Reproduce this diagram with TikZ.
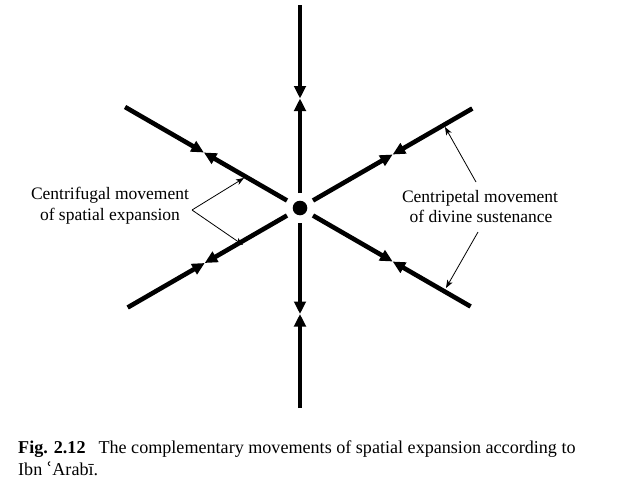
\documentclass[tikz,border=0pt]{standalone}
\usepackage{fontspec}
\setmainfont{Liberation Serif}
\newfontfamily\dvserif{DejaVu Serif}
\usetikzlibrary{arrows.meta}
\begin{document}
\begin{tikzpicture}[x=1pt,y=-1pt,
  ray/.style={line width=4.6pt, -{Triangle[length=12.5pt,width=11.5pt]}},
  pointer/.style={line width=0.8pt, -{Stealth[length=8pt,width=6pt,inset=2pt]}},
  lbl/.style={font=\fontsize{17.5}{21}\selectfont, anchor=base, inner sep=0pt},
  captext/.style={font=\fontsize{18.1}{22}\selectfont, anchor=base west, inner sep=0pt}]
\useasboundingbox (0,0) rectangle (635,498);
\node[circle, fill, minimum size=14.6pt, inner sep=0pt] (c) at (300,208) {};
\foreach \n/\a/\m/\o in {t/270/109.5/203, ul/210/111/202, ur/330/107/199, ll/150/110/199, lr/30/107/197, b/90/106/200} {
  \coordinate (\n-in) at ([shift={(\a:15)}]c.center);
  \coordinate (\n-mid) at ([shift={(\a:\m)}]c.center);
  \coordinate (\n-out) at ([shift={(\a:\o)}]c.center);
  \draw[ray] (\n-in) -- (\n-mid);
  \draw[ray] (\n-out) -- (\n-mid);
}
% left label
\node[lbl] (lf1) at (110,199) {Centrifugal movement};
\node[lbl] (lf2) at (110,220.5) {of spatial expansion};
\coordinate (lfp) at (192,210);
\coordinate (lfu) at (244,178);
\coordinate (lfd) at (243,245);
\draw[pointer] (lfp) -- (lfu);
\draw[pointer] (lfp) -- (lfd);
% right label
\node[lbl] (rt1) at (480,202) {Centripetal movement};
\node[lbl] (rt2) at (481,222) {of divine sustenance};
\coordinate (rtpu) at (476,182);
\coordinate (rtpd) at (478,232);
\coordinate (rtu) at (445,127);
\coordinate (rtd) at (446,288);
\draw[pointer] (rtpu) -- (rtu);
\draw[pointer] (rtpd) -- (rtd);
% caption
\node[captext] (capA) at (18,453) {{\bfseries Fig. 2.12}\hspace{13pt}The complementary movements of spatial expansion according to};
\node[captext] (capB) at (18,475) {Ibn {\dvserif ʿ}Arabī.};
\end{tikzpicture}
\end{document}
